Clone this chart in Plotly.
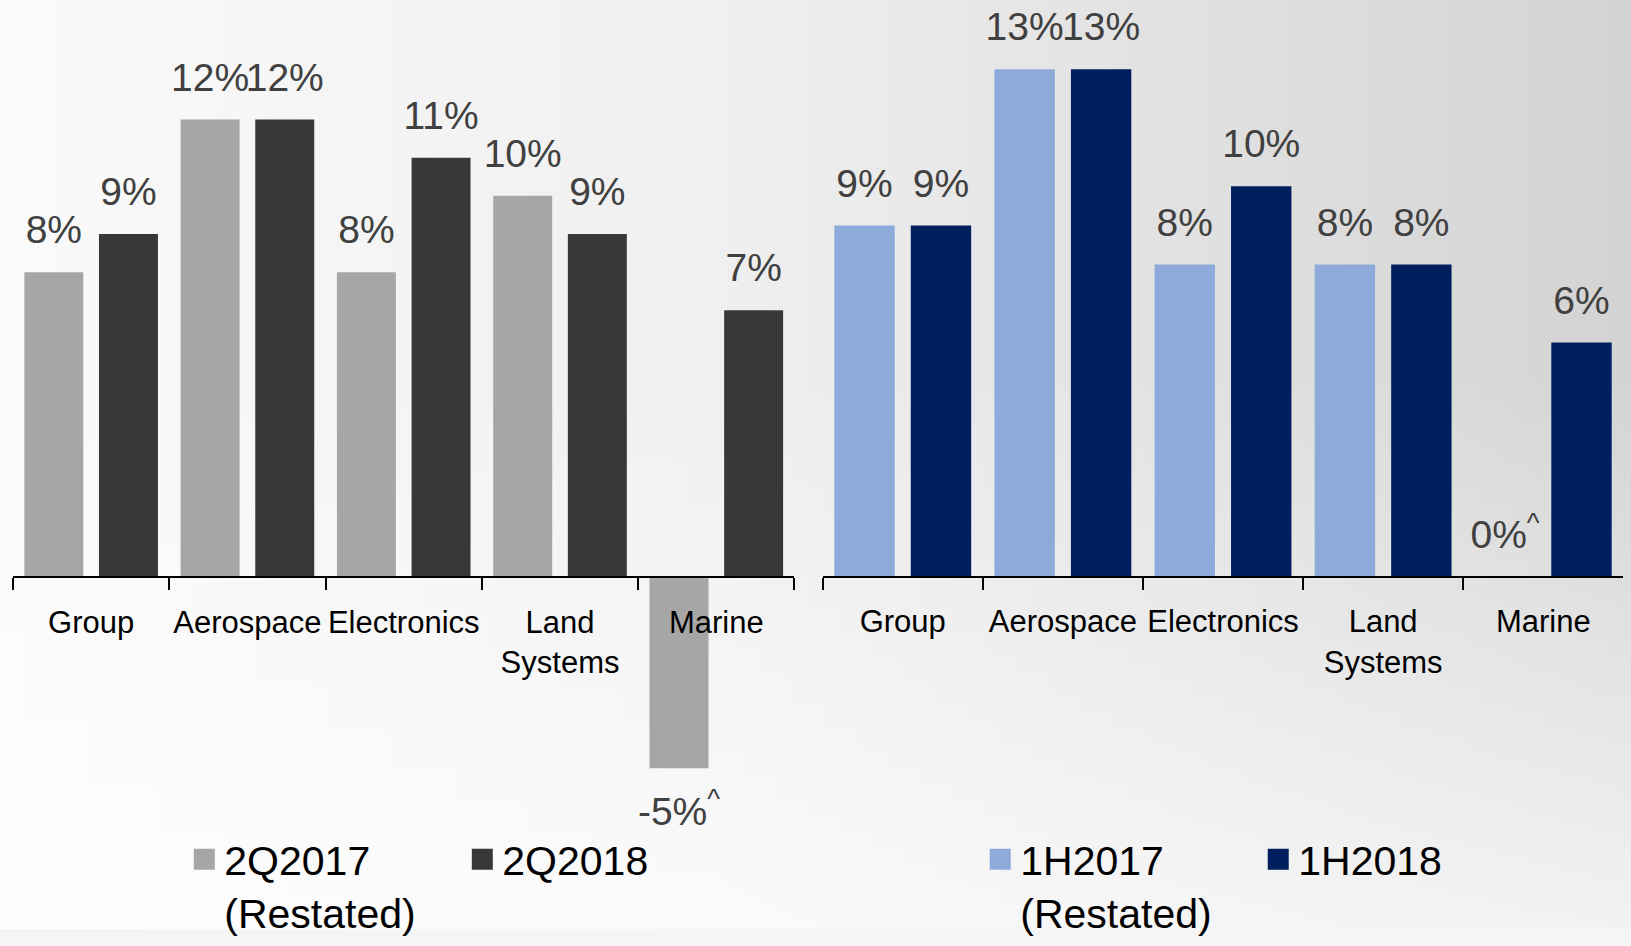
import base64
import plotly.graph_objects as go

# ---------------- data ----------------
categories = ["Group", "Aerospace", "Electronics", "Land<br>Systems", "Marine"]

q_names = ["2Q2017<br>(Restated)", "2Q2018"]
q2017 = [8, 12, 8, 10, -5]
q2018 = [9, 12, 11, 9, 7]
q2017_notes = ["", "", "", "", "^"]
q2018_notes = ["", "", "", "", ""]

h_names = ["1H2017<br>(Restated)", "1H2018"]
h2017 = [9, 13, 8, 8, 0]
h2018 = [9, 13, 10, 8, 6]
h2017_notes = ["", "", "", "", "^"]
h2018_notes = ["", "", "", "", ""]

# ---------------- style ----------------
C_Q17, C_Q18 = "#A6A6A6", "#3A3836"
C_H17, C_H18 = "#8EAADB", "#001F5F"
FONT = "Liberation Sans, Arial, sans-serif"
LABEL_COLOR = "#404040"
LABEL_SIZE = 39


def label_text(vals, notes):
    return [f"{v}%" + (f"<sup>{n}</sup>" if n else "") for v, n in zip(vals, notes)]


fig = go.Figure()


def add_panel(xa, ya, legend, names, vals_a, vals_b, notes_a, notes_b, col_a, col_b):
    for name, vals, notes, col, grp in [
        (names[0], vals_a, notes_a, col_a, "a"),
        (names[1], vals_b, notes_b, col_b, "b"),
    ]:
        fig.add_trace(go.Bar(
            x=categories, y=vals, xaxis=xa, yaxis=ya, offsetgroup=grp,
            marker=dict(color=col, line=dict(width=0)), showlegend=False,
            hoverinfo="skip",
        ))
        fig.add_trace(go.Scatter(
            x=categories, y=vals, xaxis=xa, yaxis=ya, offsetgroup=grp,
            orientation="v",
            mode="markers+text", text=label_text(vals, notes),
            textposition=["top center" if v >= 0 else "bottom center" for v in vals],
            textfont=dict(family=FONT, size=LABEL_SIZE, color=LABEL_COLOR),
            marker=dict(size=[29 if v >= 0 else 42 for v in vals], opacity=0, color=col),
            showlegend=False, hoverinfo="skip", cliponaxis=False,
        ))
        fig.add_trace(go.Scatter(
            x=[None], y=[None], xaxis=xa, yaxis=ya, offsetgroup=grp,
            orientation="v",
            mode="markers", name=name, legend=legend,
            marker=dict(symbol="square", size=25, color=col, line=dict(color=col, width=5)),
            hoverinfo="skip",
        ))


add_panel("x", "y", "legend", q_names, q2017, q2018, q2017_notes, q2018_notes, C_Q17, C_Q18)
add_panel("x2", "y2", "legend2", h_names, h2017, h2018, h2017_notes, h2018_notes, C_H17, C_H18)

svg = (
    "<svg xmlns='http://www.w3.org/2000/svg' width='1631' height='946' preserveAspectRatio='none'>"
    "<defs>"
    "<linearGradient id='h' x1='0' y1='0' x2='1' y2='0'>"
    "<stop offset='0' stop-color='#FAFAFA'/><stop offset='0.45' stop-color='#EFEFEF'/>"
    "<stop offset='1' stop-color='#D3D3D3'/></linearGradient>"
    "<linearGradient id='v' x1='0' y1='0' x2='0' y2='1'>"
    "<stop offset='0.4' stop-color='#FFFFFF' stop-opacity='0'/>"
    "<stop offset='1' stop-color='#FFFFFF' stop-opacity='0.7'/></linearGradient>"
    "</defs>"
    "<rect width='1631' height='946' fill='url(#h)'/>"
    "<rect width='1631' height='946' fill='url(#v)'/>"
    "</svg>"
)
bg_src = "data:image/svg+xml;base64," + base64.b64encode(svg.encode()).decode()

xaxis_common = dict(
    type="category", range=[-0.5, 4.5], anchor="free",
    tickson="boundaries", ticks="outside", ticklen=12, tickwidth=2, tickcolor="black",
    showline=True, linecolor="black", linewidth=2, tickangle=0,
    tickfont=dict(family=FONT, size=31, color="black"), ticklabelstandoff=17,
    showgrid=False, zeroline=False, fixedrange=True,
)
legend_common = dict(
    orientation="h", xanchor="left", yanchor="top",
    font=dict(family=FONT, size=41, color="black"),
    bgcolor="rgba(0,0,0,0)", entrywidth=233, entrywidthmode="pixels",
    valign="top", traceorder="normal", itemclick=False, itemdoubleclick=False,
)

fig.update_layout(
    width=1631, height=946, autosize=False,
    margin=dict(l=0, r=0, t=0, b=0),
    paper_bgcolor="#F5F5F5", plot_bgcolor="rgba(0,0,0,0)",
    barmode="group", bargap=0.045, bargroupgap=0.21,
    scattermode="group", scattergap=0.045,
    images=[dict(source=bg_src, xref="paper", yref="paper", x=0, y=1, sizex=1, sizey=1,
                 xanchor="left", yanchor="top", sizing="stretch", layer="below")],
    xaxis=dict(domain=[0.00797, 0.4871], position=0.3785, **xaxis_common),
    yaxis=dict(domain=[0, 1], range=[-9.21, 15.13], visible=False, anchor="x", fixedrange=True),
    xaxis2=dict(domain=[0.5044, 0.9953], position=0.3788, **xaxis_common),
    yaxis2=dict(domain=[0, 1], range=[-9.01, 14.77], visible=False, anchor="x2", fixedrange=True),
    legend=dict(x=0.113, y=0.1108, **legend_common),
    legend2=dict(x=0.601, y=0.1108, **legend_common),
    showlegend=True,
)

fig.write_html(
    "out.html",
    config={"responsive": False, "displayModeBar": False},
    post_script=(
        "document.body.style.margin='0px';document.body.style.overflow='hidden';"
        "document.body.style.background='linear-gradient(90deg,#FAFAFA,#F3F3F3 50%,#EFEFEF)';"
    ),
)
